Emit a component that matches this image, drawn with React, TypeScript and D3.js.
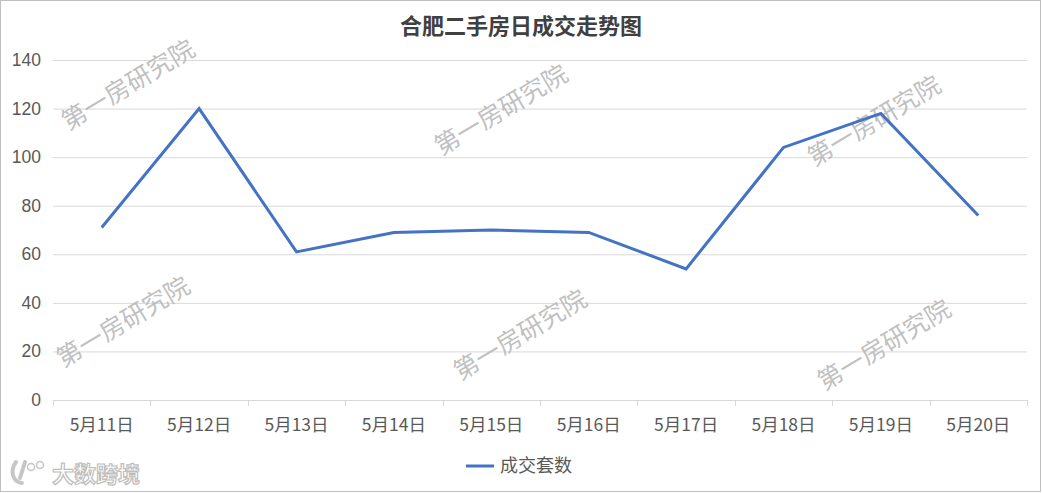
import React from "react";
import * as d3 from "d3";

const categories = ["5月11日", "5月12日", "5月13日", "5月14日", "5月15日", "5月16日", "5月17日", "5月18日", "5月19日", "5月20日"];
const dealCounts = [71, 120, 61, 69, 70, 69, 54, 104, 118, 76];
const yTicks = [0, 20, 40, 60, 80, 100, 120, 140];
const title = "合肥二手房日成交走势图";
const seriesName = "成交套数";
const watermarkText = "第一房研究院";
const watermarks: [number, number][] = [
  [127, 83], [500, 108], [873, 119], [122, 320], [519, 333], [883, 343],
];

const W = 1042, H = 493;
const FONT = "'Noto Sans CJK SC', 'Microsoft YaHei', sans-serif";

export default function App() {
  const x = d3.scaleBand<string>().domain(categories).range([53, 1027]).padding(0);
  const y = d3.scaleLinear().domain([0, 140]).range([400, 60]);
  const line = d3.line<number>()
    .x((_, i) => (x(categories[i]) as number) + x.bandwidth() / 2)
    .y((d) => y(d));
  const boundaries = categories.map((c) => x(c) as number).concat([x.range()[1]]);

  return (
    <svg width={W} height={H} style={{ display: "block", position: "absolute", left: 0, top: 0 }} fontFamily={FONT}>
      <rect x={0.5} y={0.5} width={W - 2} height={H - 2} fill="#fff" stroke="#bfbfbf" />
      <text x={521} y={34} textAnchor="middle" fontSize={22} fontWeight="bold" fill="#404040">{title}</text>
      {yTicks.map((t) => (
        <g key={t}>
          <line x1={53} x2={1027} y1={y(t) + 0.5} y2={y(t) + 0.5} stroke="#d9d9d9" strokeWidth={1} />
          <text x={41} y={y(t) + 6} textAnchor="end" fontSize={17.5} fill="#595959" fontFamily="'Liberation Sans', Arial, sans-serif">{t}</text>
        </g>
      ))}
      {boundaries.map((b, i) => (
        <line key={i} x1={Math.round(b) + 0.5} x2={Math.round(b) + 0.5} y1={400} y2={406} stroke="#d9d9d9" />
      ))}
      {categories.map((c) => (
        <text key={c} x={(x(c) as number) + x.bandwidth() / 2} y={431} textAnchor="middle" fontSize={17.5} fill="#595959">{c}</text>
      ))}
      {watermarks.map(([cx, cy], i) => (
        <text key={i} x={cx} y={cy} textAnchor="middle" dominantBaseline="central" fontSize={25}
          fill="#b8b8b8" fillOpacity={0.9} transform={`rotate(-31 ${cx} ${cy})`}>{watermarkText}</text>
      ))}
      <path d={line(dealCounts) ?? ""} fill="none" stroke="#4472C4" strokeWidth={3} strokeLinejoin="miter" />
      <line x1={466} x2={494} y1={466} y2={466} stroke="#4472C4" strokeWidth={3} />
      <text x={500} y={472} fontSize={18} fill="#595959">{seriesName}</text>
      <g opacity={0.9}>
        <path d="M16,462 C10,470 12,482 22,483 M25,462 L20,478" fill="none" stroke="#c0c0c0" strokeWidth={4} strokeLinecap="round" />
        <circle cx={31} cy={467} r={3.5} fill="#fff" stroke="#c0c0c0" strokeWidth={1.5} />
        <circle cx={40} cy={465} r={3.5} fill="#fff" stroke="#c0c0c0" strokeWidth={1.5} />
        <text x={52} y={482} fontSize={22} fontWeight="bold" fill="#ffffff" stroke="#b8b8b8" strokeWidth={1.2}>大数跨境</text>
      </g>
    </svg>
  );
}
